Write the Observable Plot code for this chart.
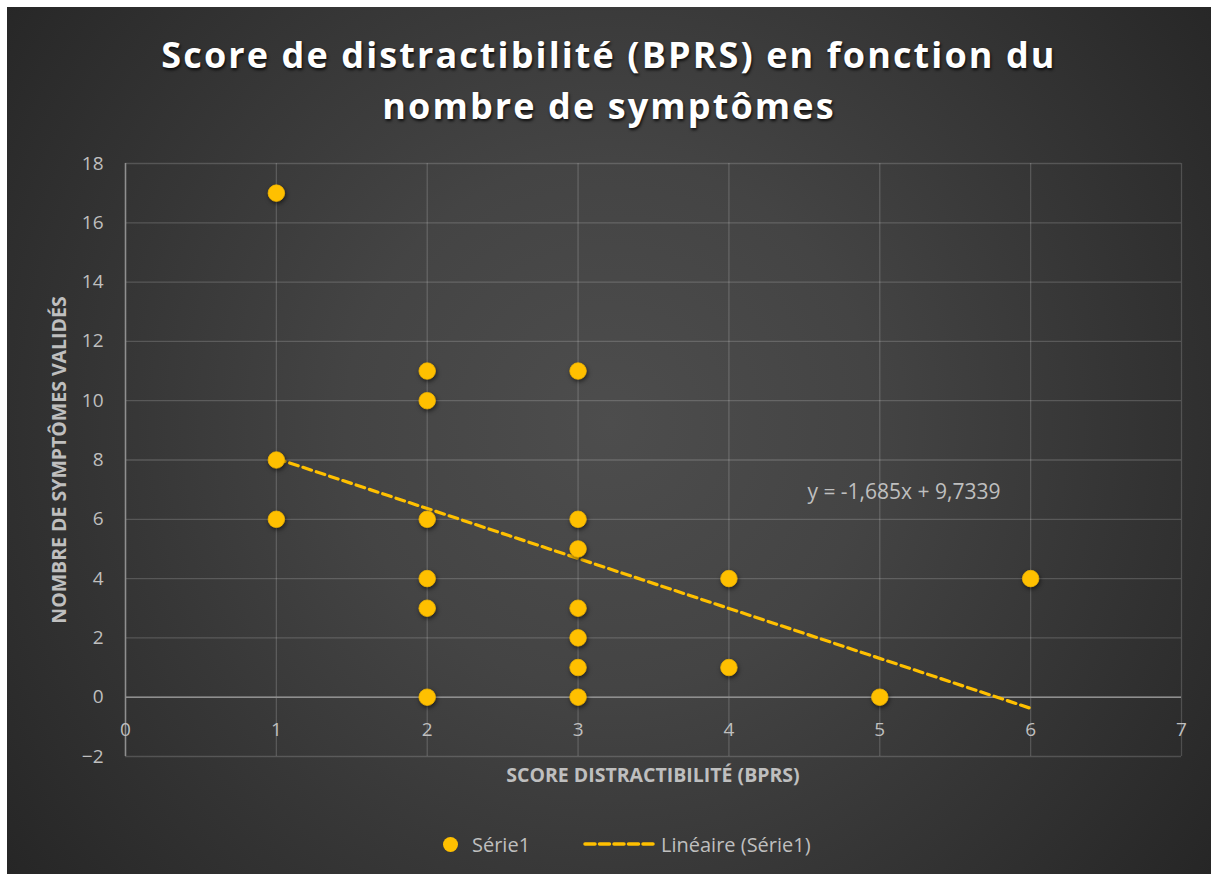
<!DOCTYPE html>
<html><head><meta charset="utf-8">
<script src="https://cdn.jsdelivr.net/npm/d3@7"></script>
<script src="https://cdn.jsdelivr.net/npm/@observablehq/plot@0.6"></script>
<style>
body{margin:0;background:#fff;width:1218px;height:881px;overflow:hidden;}
#frame{position:absolute;left:7px;top:7px;width:1204px;height:867px;
  background:radial-gradient(circle farthest-corner at 50% 48%, #4d4d4d 0%, #444 35%, #363636 65%, #262626 100%);
  overflow:hidden;font-family:"Open Sans",sans-serif;color:#bfbfbf;}
#title{position:absolute;left:0;top:22px;width:1204px;text-align:center;font-weight:700;font-size:36px;
  line-height:51px;color:#fff;letter-spacing:2.1px;text-shadow:1px 2px 3px rgba(0,0,0,0.8);}
#chart{position:absolute;left:0;top:133px;}
#xtitle{position:absolute;left:0;width:1292px;top:754px;text-align:center;font-weight:700;font-size:19.5px;}
#ytitle{position:absolute;left:51px;top:453px;width:0;height:0;}
#ytitle span{position:absolute;white-space:nowrap;transform:translate(-50%,-50%) rotate(-90deg);font-weight:700;font-size:19.5px;}
#legend{position:absolute;top:824px;left:0;width:1204px;height:26px;font-size:20px;}
.ldot{position:absolute;left:436px;top:6px;width:15px;height:15px;border-radius:50%;background:#FFC000;}
.ltxt{position:absolute;top:0;white-space:nowrap;}
svg .dots circle{filter:drop-shadow(1px 2px 2px rgba(0,0,0,0.55));}
</style></head>
<body>
<div id="frame">
  <div id="title">Score de distractibilité (BPRS) en fonction du<br>nombre de symptômes</div>
  <div id="chart"></div>
  <div id="xtitle">SCORE DISTRACTIBILITÉ (BPRS)</div>
  <div id="ytitle"><span>NOMBRE DE SYMPTÔMES VALIDÉS</span></div>
  <div id="legend">
    <div class="ldot"></div>
    <div class="ltxt" style="left:465px">Série1</div>
    <svg style="position:absolute;left:576px;top:1px" width="75" height="24"><line x1="2" x2="73" y1="12" y2="12" stroke="#FFC000" stroke-width="3.5" stroke-dasharray="10,4.5" stroke-linecap="round"/></svg>
    <div class="ltxt" style="left:654px">Linéaire (Série1)</div>
  </div>
</div>
<script>
// Data
const scoreBPRS   = [1, 1, 1, 2, 2, 2, 2, 2, 2, 3, 3, 3, 3, 3, 3, 3, 4, 4, 5, 6];
const nbSymptomes = [17, 8, 6, 11, 10, 6, 4, 3, 0, 11, 6, 5, 3, 2, 1, 0, 4, 1, 0, 4];
const xTicks = [0, 1, 2, 3, 4, 5, 6, 7];
const yTicks = [-2, 0, 2, 4, 6, 8, 10, 12, 14, 16, 18];
const equationLabel = "y = -1,685x + 9,7339";
const seriesName = "Série1";

const data = scoreBPRS.map((x, i) => ({x, y: nbSymptomes[i]}));
const gold = "#FFC000";
const tickColor = "#bfbfbf";

const plot = Plot.plot({
  width: 1204, height: 660,
  marginLeft: 118, marginRight: 30, marginTop: 23, marginBottom: 44,
  style: {background: "transparent", fontFamily: "'Open Sans', sans-serif", fontSize: "18px", color: tickColor},
  x: {domain: [0, 7], axis: null},
  y: {domain: [-2, 18], axis: null},
  marks: [
    Plot.gridX(xTicks, {stroke: "#fff", strokeOpacity: 0.17, strokeWidth: 1.3}),
    Plot.gridY(yTicks, {stroke: "#fff", strokeOpacity: 0.17, strokeWidth: 1.3}),
    Plot.ruleY([0], {stroke: "#8f8f8f", strokeWidth: 1.5}),
    Plot.ruleX([0], {stroke: "#8f8f8f", strokeWidth: 1.5}),
    Plot.axisY(yTicks, {tickSize: 0, tickPadding: 22, label: null, fill: tickColor, fontSize: 19}),
    Plot.text(xTicks, {x: d => d, y: 0, dy: 33, text: d => String(d), fill: tickColor, fontSize: 19}),
    Plot.linearRegressionY(data, {x: "x", y: "y", ci: 0, stroke: gold, strokeWidth: 3.2, strokeDasharray: "9,5"}),
    Plot.dot(data, {x: "x", y: "y", r: 8.3, fill: gold, stroke: "#f0b400", strokeWidth: 0.8, className: "dots"}),
    Plot.text([equationLabel], {x: 5.16, y: 6.9, text: d => d, fill: tickColor, fontSize: 21})
  ]
});
document.getElementById("chart").appendChild(plot);
</script>
</body></html>
